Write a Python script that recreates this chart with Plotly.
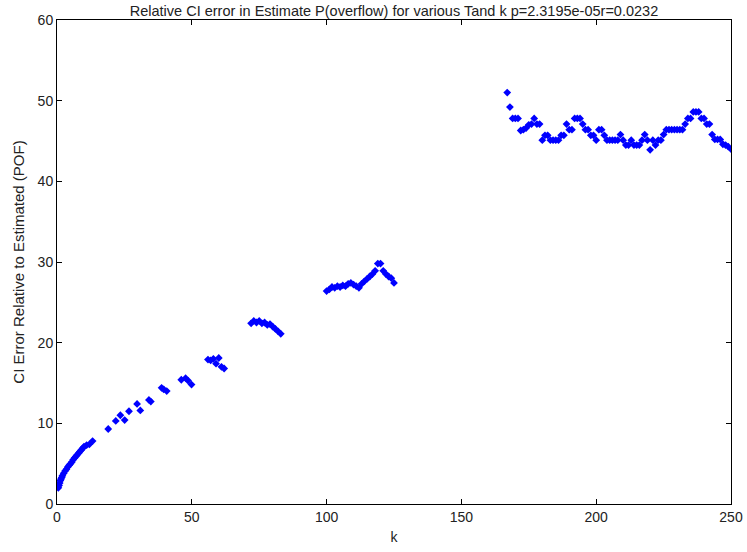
import plotly.graph_objects as go

# cluster data
k1 = [0.5, 0.75, 1, 1.25, 1.5, 1.75, 2, 2.5, 3, 3.5, 4, 4.5, 5, 5.5, 6, 6.5, 7, 7.5, 8, 8.5, 9, 9.5, 10, 11, 12, 13.2]
v1 = [2.0, 2.3, 2.6, 2.9, 3.1, 3.3, 3.5, 3.8, 4.1, 4.3, 4.6, 4.8, 5.0, 5.2, 5.5, 5.7, 5.9, 6.1, 6.3, 6.5, 6.7, 6.9, 7.1, 7.3, 7.4, 7.8]

k2 = [19, 21.8, 23.5, 25.1, 26.7, 29.7, 30.9, 34.1, 34.8, 38.8, 39.6, 40.7, 46.1, 47.7, 48.6, 49.9,
      56, 57, 58, 59, 60, 61, 62]
v2 = [9.3, 10.3, 11.0, 10.4, 11.5, 12.4, 11.6, 12.9, 12.7, 14.4, 14.2, 14.0, 15.4, 15.6, 15.3, 14.8,
      17.9, 17.8, 18.0, 17.4, 18.1, 17.0, 16.8]

k3 = [72, 73, 74, 75, 76, 77, 78, 79, 80, 81, 82, 83]
v3 = [22.4, 22.7, 22.5, 22.7, 22.4, 22.5, 22.2, 22.3, 22.0, 21.7, 21.4, 21.1]

k4 = list(range(100, 126))
v4 = [26.4, 26.6, 26.9, 26.8, 27.0, 26.9, 27.1, 27.0, 27.3, 27.4, 27.2, 27.0, 26.8,
      27.3, 27.6, 27.9, 28.2, 28.5, 28.9, 29.8, 29.8, 28.9, 28.5, 28.2, 28.0, 27.4]

v5 = [51.0, 49.2, 47.8, 47.8, 47.8,
      46.3, 46.4, 46.6, 47.0, 47.1, 47.8, 47.1, 47.1,
      45.1, 45.7, 45.7, 45.1, 45.1, 45.1, 45.1, 45.7, 45.7,
      47.1, 46.4, 46.4,
      47.8, 47.8, 47.8, 47.1, 46.4, 46.4, 45.7, 45.7, 45.1,
      46.4, 46.4, 45.7, 45.1, 45.1, 45.1, 45.1, 45.1,
      45.8, 45.1, 44.5, 44.5, 45.1, 44.5, 44.5, 44.5, 45.1, 45.8, 45.1, 43.9,
      45.1, 44.5, 45.1, 45.1, 45.8,
      46.4, 46.4, 46.4, 46.4, 46.4, 46.4, 46.4,
      47.1, 47.8, 47.8, 48.6, 48.6, 48.6, 47.8, 47.8, 47.1, 47.1,
      45.8, 45.2, 45.2, 45.2, 44.6, 44.5, 44.3, 44.0]
k5 = list(range(167, 167 + len(v5)))

ks = k1 + k2 + k3 + k4 + k5
vs = v1 + v2 + v3 + v4 + v5

xticks = [0, 50, 100, 150, 200, 250]
yticks = [0, 10, 20, 30, 40, 50, 60]

font = "Liberation Sans Narrow, Liberation Sans, Arial, sans-serif"

fig = go.Figure()
fig.add_trace(go.Scatter(
    x=ks, y=vs, mode="markers",
    marker=dict(symbol="diamond", size=6, color="#0000ff", line=dict(width=0)),
    showlegend=False,
))

axis_common = dict(
    showgrid=False, zeroline=False, showline=True, linecolor="black", linewidth=1,
    mirror="ticks", ticks="inside", ticklen=5, tickcolor="black", automargin=False,
    tickfont=dict(family=font, size=14, color="#222"),
)

fig.update_layout(
    width=747, height=552,
    margin=dict(l=57, r=16, t=20, b=48),
    paper_bgcolor="white", plot_bgcolor="white",
    title=dict(text="Relative CI error in Estimate P(overflow) for various Tand k p=2.3195e-05r=0.0232",
               x=0.5, xref="paper", xanchor="center", y=0.99, yref="container", yanchor="top",
               font=dict(family=font, size=14.5, color="#222")),
    xaxis=dict(range=[0, 250], tickvals=xticks, title=dict(text="k", font=dict(family=font, size=14, color="#222"), standoff=8),
               **axis_common),
    yaxis=dict(range=[0, 60], tickvals=yticks,
               title=dict(text="CI Error Relative to Estimated (POF)", font=dict(family=font, size=15, color="#222"), standoff=9),
               **axis_common),
)

fig.write_html("out.html")
